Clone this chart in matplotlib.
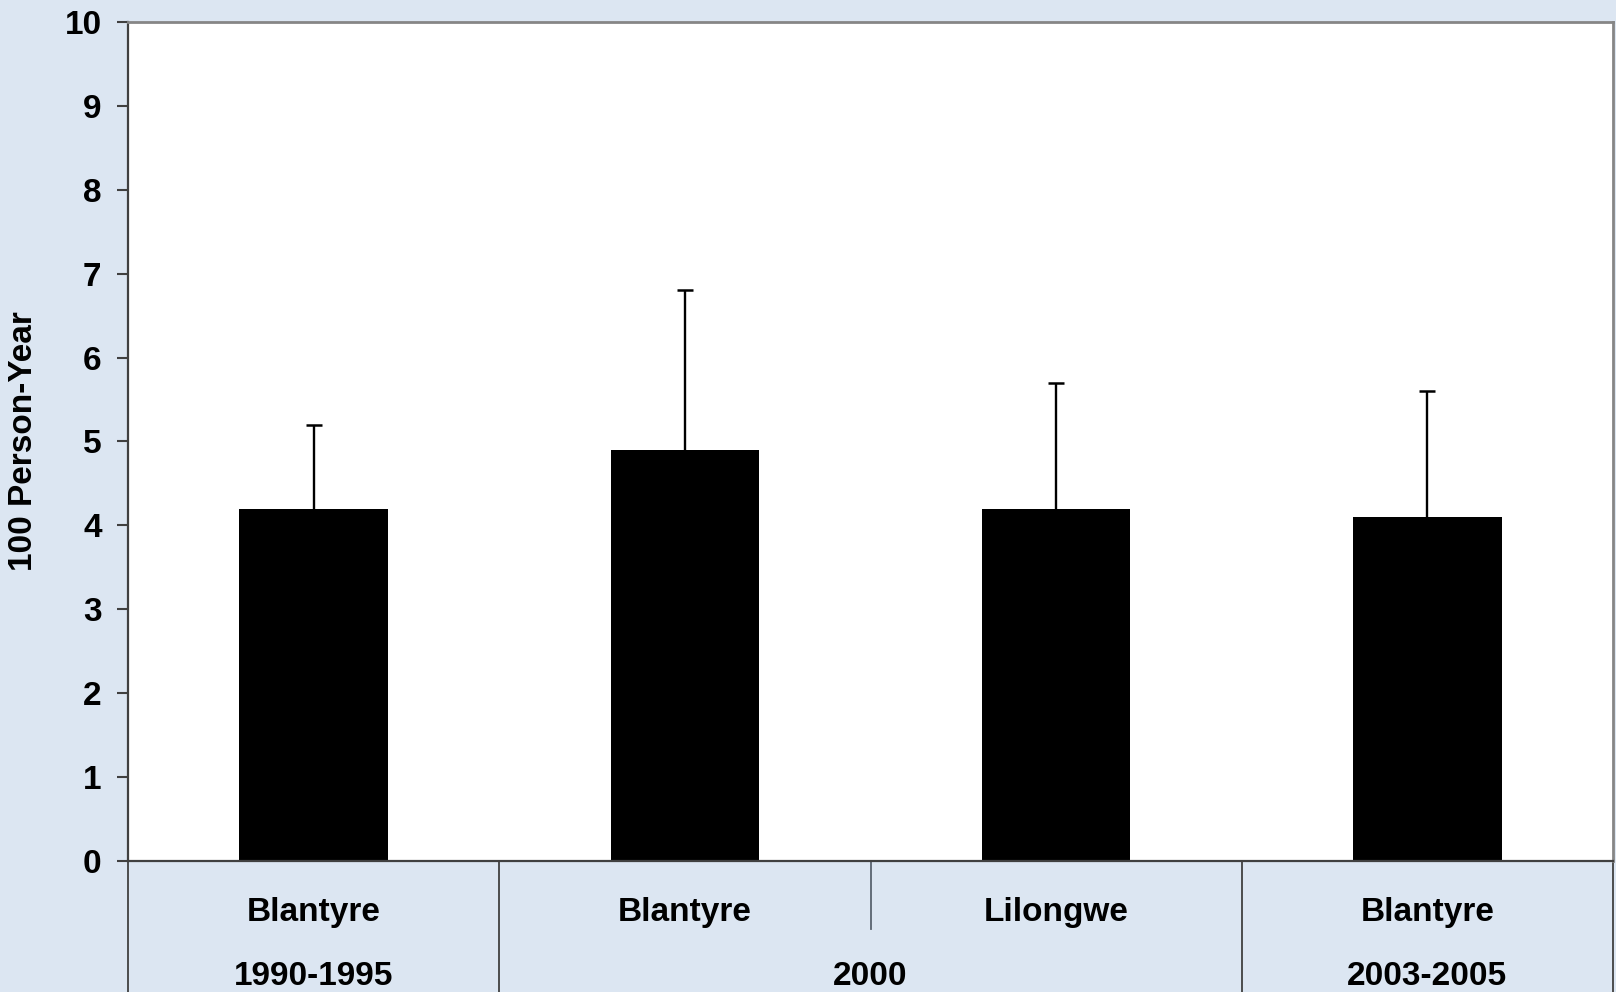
import matplotlib

matplotlib.use("Agg")
import matplotlib.pyplot as plt
import matplotlib.transforms as mtransforms
import numpy as np

# Incidence per 100 person-years with the upper end of the error bar
CITIES = ["Blantyre", "Blantyre", "Lilongwe", "Blantyre"]
RATES = [4.2, 4.9, 4.2, 4.1]
UPPER = [5.2, 6.8, 5.7, 5.6]

# Study periods, each spanning one or more of the bars above (first, last)
PERIODS = ["1990-1995", "2000", "2003-2005"]
PERIOD_SPANS = [(0, 0), (1, 2), (3, 3)]

BG = "#dce6f2"
FAMILY = ["Liberation Sans", "DejaVu Sans"]
FS = 24

plt.rcParams["font.family"] = FAMILY

fig = plt.figure(figsize=(16.16, 9.92), dpi=100, facecolor=BG)
ax = fig.add_axes([128 / 1616, 131 / 992, 1485 / 1616, 839 / 992])
ax.set_facecolor("white")

x = np.arange(len(RATES))
ax.bar(x, RATES, width=0.40, color="black", zorder=2)
# one-sided error bars: stem from bar top up to the upper bound, capped
ax.vlines(x, RATES, UPPER, color="black", lw=1.7, zorder=3)
ax.plot(x, UPPER, ls="none", marker="_", ms=11, mew=1.8, color="black", zorder=3)

ax.set_xlim(-0.5, len(RATES) - 0.5)
ax.set_ylim(0, 10)
ax.set_yticks(range(0, 11))
ax.set_xticks([])
for lbl in ax.get_yticklabels():
    lbl.set_fontweight("bold")
    lbl.set_fontsize(FS)
ax.tick_params(axis="y", length=8, width=1.5, color="#404040", pad=11)

for side in ("top", "right"):
    ax.spines[side].set_color("#868686")
    ax.spines[side].set_linewidth(2.0)
for side in ("left", "bottom"):
    ax.spines[side].set_color("#404040")
    ax.spines[side].set_linewidth(1.6)

ax.set_ylabel("100 Person-Year", fontsize=FS, fontweight="bold")
ax.yaxis.set_label_coords(-0.060, 0.5)

# Two-level category axis below the plot
trans = mtransforms.blended_transform_factory(ax.transData, ax.transAxes)
fig_bottom = -131 / 839
for xi, city in zip(x, CITIES):
    ax.text(xi, -0.072, city, transform=trans, ha="center", va="baseline",
            fontsize=FS, fontweight="bold")
for period, (first, last) in zip(PERIODS, PERIOD_SPANS):
    ax.text((first + last) / 2, -0.148, period, transform=trans, ha="center",
            va="baseline", fontsize=FS, fontweight="bold")
    # inner dividers within a multi-bar period stop at the first label row
    for b in range(first, last):
        ax.plot([b + 0.5, b + 0.5], [0, -0.081], transform=trans, color="#5a6470",
                lw=1.3, clip_on=False)
bounds = [PERIOD_SPANS[0][0] - 0.5] + [last + 0.5 for _, last in PERIOD_SPANS]
for bx in bounds:
    ax.plot([bx, bx], [0, fig_bottom], transform=trans, color="#404040",
            lw=1.3, clip_on=False)

fig.savefig("out.png", dpi=100, facecolor=BG)
